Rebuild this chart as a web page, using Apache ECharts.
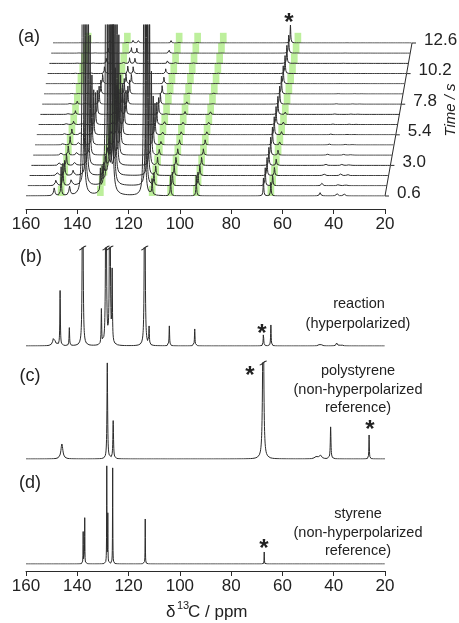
<!DOCTYPE html>
<html>
<head>
<meta charset="utf-8">
<script src="https://cdn.jsdelivr.net/npm/echarts@6/dist/echarts.min.js"></script>
<style>
html,body{margin:0;padding:0;background:#fff}
#main{width:459px;height:623px}
</style>
</head>
<body>
<div id="main"></div>
<script>
// shared ppm scale
var ppmFrom = 160, ppmTo = 20;

// (a) one trace per acquisition time
var traceTimes = [0.6,1.4,2.2,3.0,3.8,4.6,5.4,6.2,7.0,7.8,8.6,9.4,10.2,11.0,11.8,12.6];
var timeLabels = [0.6,3.0,5.4,7.8,10.2,12.6];
// styrene (huge, clipped, decaying)
var styrenePpm = [137.8,128.7,126.6,113.9];
var styreneRel = [1.0,1.1,1.0,0.7];
var styreneAmp = [1500,800,420,220,120,70,45,32,24,18,14,11,8,6,5,4];
// product signals (green bands)
var productPpm = [146.3,131.0,110.8,103.6,93.6,64.5];
var productRel = [1.3,1.0,0.8,0.9,0.9,0.7];
var productAmp = [22,17,13,10,8,6.5,5,4,3.2,2.6,2,1.6,1.3,1,0.8,0.6];
// small signals
var minorPpm = [149.0,143.0,45.3,38.8,36.0];
var minorRel = [0.35,0.4,0.15,0.12,0.1];
// solvent (*), constant
var solventPpm = 67.4, solventAmp = 18;

// (b) reaction, (c) polystyrene, (d) styrene : [ppm, half width, height]
var peaksB = [[149.1,0.5,9],[146.7,0.12,55],[143.1,0.12,18],[137.9,0.12,400],[130.6,0.12,35],
  [128.8,0.12,400],[127.3,0.12,400],[126.4,0.12,70],[113.7,0.12,400],[112.0,0.12,18],
  [104.1,0.12,20],[94.2,0.12,17],[67.4,0.12,13],[64.5,0.12,21],[45.3,0.4,3],[38.8,0.3,3],[37.0,0.3,2]];
var clipB = [137.9,128.8,127.3,113.7];
var peaksC = [[146.0,0.45,15],[128.3,0.15,96],[126.0,0.15,38],[67.5,0.22,200],
  [47.0,0.6,2],[45.3,0.6,4],[41.2,0.15,32],[26.2,0.1,24]];
var clipC = [67.5];
var peaksD = [[137.7,0.06,32],[137.1,0.06,46],[128.5,0.06,97],[128.1,0.06,49],
  [126.2,0.06,96],[113.5,0.06,45],[67.1,0.06,12]];

var ink = '#2b2b2b';
var font = 'Liberation Sans, Arial, sans-serif';

function lineShape(peaks){
  var out = [];
  for (var k = 0; k <= 2800; k++) {
    var ppm = Math.round((ppmFrom - k*0.05)*100)/100;
    var s = 0;
    for (var j = 0; j < peaks.length; j++) {
      var d = ppm - peaks[j][0], w = peaks[j][1];
      s += peaks[j][2]*w*w/(d*d + w*w);
    }
    out.push([ppm, s]);
  }
  return out;
}

function tracePeaks(i){
  var p = [];
  styrenePpm.forEach(function(v, j){ p.push([v, 0.12, styreneAmp[i]*styreneRel[j]]); });
  productPpm.forEach(function(v, j){ p.push([v, 0.14, productAmp[i]*productRel[j]]); });
  minorPpm.forEach(function(v, j){ p.push([v, 0.3, productAmp[i]*minorRel[j]]); });
  p.push([solventPpm, 0.14, solventAmp]);
  return p;
}

var grid = [], xAxis = [], yAxis = [], series = [];

function ppmAxis(gi, show, offset){
  return {
    gridIndex: gi, type: 'value', min: ppmTo, max: ppmFrom, interval: 20, inverse: true,
    show: show, position: 'bottom', offset: offset || 0,
    axisLine: {show: true, onZero: false, lineStyle: {color: ink, width: 1}},
    axisTick: {show: true, length: 5, lineStyle: {color: ink}},
    axisLabel: {show: true, fontSize: 17, color: '#222', margin: 7, fontFamily: font,
      showMinLabel: true, showMaxLabel: true},
    splitLine: {show: false}
  };
}
function addGrid(left, top, height){
  grid.push({left: left, top: top, width: 359, height: height, containLabel: false, outerBoundsMode: 'none'});
  return grid.length - 1;
}

// (a) stacked traces
var step = 10.2, shift = 1.8, clipTop = 25;
traceTimes.forEach(function(t, i){
  var base = 196 - step*i;
  var gi = addGrid(26 + shift*i, clipTop, base - clipTop);
  xAxis.push(ppmAxis(gi, i === 0, 13));
  yAxis.push({gridIndex: gi, type: 'value', min: 0, max: base - clipTop, show: false, splitLine: {show: false}});
  series.push({
    type: 'line', xAxisIndex: gi, yAxisIndex: gi, data: [[ppmFrom,0],[ppmTo,0]], symbol: 'none',
    lineStyle: {opacity: 0}, silent: true, z: 1,
    markArea: {silent: true, label: {show: false}, itemStyle: {color: '#bdef9c'},
      data: productPpm.map(function(p){ return [{xAxis: p + 1.3, yAxis: 0}, {xAxis: p - 1.3, yAxis: step}]; })}
  });
  series.push({
    type: 'line', xAxisIndex: gi, yAxisIndex: gi, data: lineShape(tracePeaks(i)), symbol: 'none',
    lineStyle: {color: '#2e2e2e', width: 1}, silent: true, z: 3, clip: true
  });
});

// time axis (slanted) : x and y both in seconds
var gT = grid.length;
grid.push({left: 385, top: 43, width: 27, height: 153, containLabel: false, outerBoundsMode: 'none'});
xAxis.push({gridIndex: gT, type: 'value', min: 0.6, max: 12.6, show: false});
yAxis.push({gridIndex: gT, type: 'value', min: 0.6, max: 12.6, show: false});
series.push({
  type: 'line', xAxisIndex: gT, yAxisIndex: gT, silent: true, z: 4,
  data: timeLabels.map(function(t){ return [t, t]; }),
  symbol: 'rect', symbolSize: [4, 1], symbolOffset: [2, 0],
  itemStyle: {color: ink}, lineStyle: {color: ink, width: 1},
  label: {show: true, position: 'right', distance: 8, offset: [0, -3], fontSize: 17, color: '#222',
    fontFamily: font, formatter: function(p){ return p.value[1].toFixed(1); }}
});

// (b) (c) (d)
function clipMarks(list, yMax){
  return {
    silent: true, symbol: 'path://M0,8 C3,8 6,0 10,0', symbolSize: [7, 4], symbolKeepAspect: false,
    itemStyle: {color: 'transparent', borderColor: ink, borderWidth: 1}, label: {show: false},
    data: list.map(function(p){ return {coord: [p, yMax]}; })
  };
}
function addPanel(peaks, top, height, showAxis, clips){
  var gi = addGrid(26, top, height);
  xAxis.push(ppmAxis(gi, showAxis, 7));
  yAxis.push({gridIndex: gi, type: 'value', min: 0, max: height, show: false, splitLine: {show: false}});
  var s = {
    type: 'line', xAxisIndex: gi, yAxisIndex: gi, data: lineShape(peaks), symbol: 'none',
    lineStyle: {color: ink, width: 1}, silent: true, z: 3, clip: true
  };
  if (clips) s.markPoint = clipMarks(clips, height);
  series.push(s);
}
addPanel(peaksB, 248, 98, false, clipB);
addPanel(peaksC, 363, 96, false, clipC);
addPanel(peaksD, 462, 102, true, null);

function txt(s, x, y, size, extra){
  var st = {text: s, fill: '#222', font: (extra && extra.style || '') + ' ' + size + 'px ' + font,
    align: (extra && extra.align) || 'center', verticalAlign: 'middle'};
  return {type: 'text', x: x, y: y, rotation: (extra && extra.rot) || 0, style: st, z: 10, silent: true};
}
var graphic = [
  txt('(a)', 29, 37, 18), txt('(b)', 31, 257, 18), txt('(c)', 30, 376, 18), txt('(d)', 30, 483, 18),
  txt('reaction', 359, 304, 14.5), txt('(hyperpolarized)', 358, 324, 14.5),
  txt('polystyrene', 358, 371, 14.5), txt('(non-hyperpolarized', 358, 390, 14.5), txt('reference)', 358, 408, 14.5),
  txt('styrene', 358, 514, 14.5), txt('(non-hyperpolarized', 358, 533, 14.5), txt('reference)', 358, 551, 14.5),
  txt('*', 289, 23, 24, {style: 'bold'}), txt('*', 262, 334, 24, {style: 'bold'}),
  txt('*', 250, 376, 24, {style: 'bold'}), txt('*', 370, 430, 24, {style: 'bold'}),
  txt('*', 264, 549, 24, {style: 'bold'}),
  txt('δ', 166, 612, 17, {align: 'left'}), txt('13', 177, 606, 11, {align: 'left'}),
  txt('C / ppm', 188, 612, 17, {align: 'left'}),
  txt('Time / s', 451, 110, 15, {style: 'italic', rot: Math.PI/2})
];

var chart = echarts.init(document.getElementById('main'));
chart.setOption({
  animation: false,
  backgroundColor: '#fff',
  textStyle: {fontFamily: font},
  grid: grid, xAxis: xAxis, yAxis: yAxis, series: series, graphic: graphic
});
</script>
</body>
</html>
